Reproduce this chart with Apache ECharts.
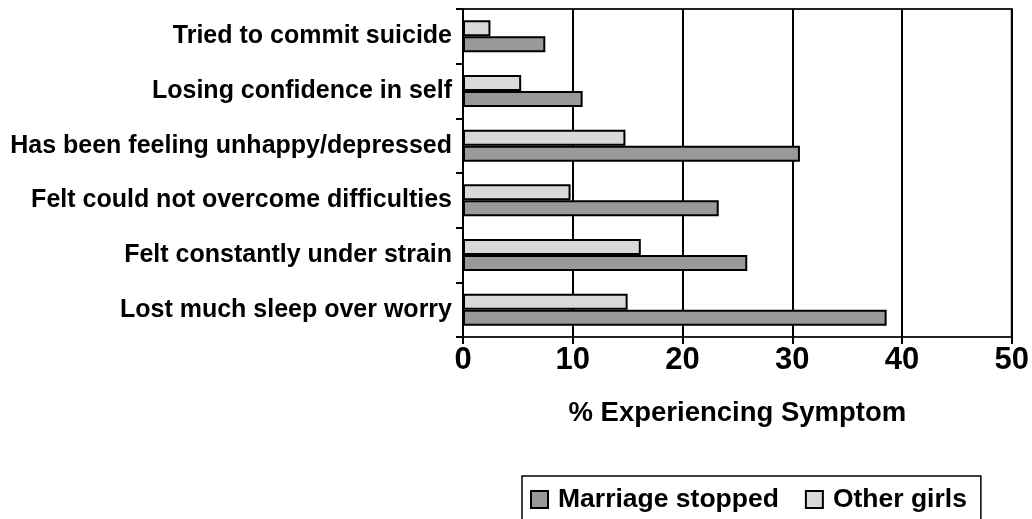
<!DOCTYPE html>
<html>
<head>
<meta charset="utf-8">
<script src="https://cdn.jsdelivr.net/npm/echarts@6/dist/echarts.min.js"></script>
<style>
  html, body { margin: 0; padding: 0; background: #fff; }
  #chart { width: 1032px; height: 519px; }
</style>
</head>
<body>
<div id="chart"></div>
<script>
"use strict";

var categories = [
  "Tried to commit suicide",
  "Losing confidence in self",
  "Has been feeling unhappy/depressed",
  "Felt could not overcome difficulties",
  "Felt constantly under strain",
  "Lost much sleep over worry"
];
var marriageStopped = [7.5, 10.9, 30.7, 23.3, 25.9, 38.6];
var otherGirls = [2.5, 5.3, 14.8, 9.8, 16.2, 15.0];
var xTicks = [0, 10, 20, 30, 40, 50];

var chart = echarts.init(document.getElementById("chart"));

chart.setOption({
  animation: false,
  textStyle: { fontFamily: "Liberation Sans", fontWeight: "bold", color: "#000" },
  grid: {
    left: 463,
    right: 20,
    top: 9,
    bottom: 182,
    show: true,
    borderColor: "#222",
    borderWidth: 2
  },
  legend: {
    data: ["Marriage stopped", "Other girls"],
    left: 522,
    top: 476,
    padding: [10, 14, 30, 8],
    borderColor: "#000",
    borderWidth: 1.5,
    itemWidth: 17,
    itemHeight: 17,
    itemGap: 26,
    icon: "rect",
    textStyle: {
      fontSize: 26.5,
      fontWeight: "bold",
      color: "#000",
      fontFamily: "Liberation Sans",
      padding: [0, 0, 0, 5]
    }
  },
  xAxis: {
    type: "value",
    min: xTicks[0],
    max: xTicks[xTicks.length - 1],
    interval: 10,
    name: "% Experiencing Symptom",
    nameLocation: "middle",
    nameGap: 62,
    nameTextStyle: { fontSize: 27.5, fontWeight: "bold", color: "#000" },
    axisLine: { lineStyle: { color: "#000", width: 2 } },
    axisTick: { show: true, length: 7, lineStyle: { color: "#000", width: 2 } },
    axisLabel: { fontSize: 31, fontWeight: "bold", color: "#000", margin: 8 },
    splitLine: { show: true, lineStyle: { color: "#000", width: 2 } }
  },
  yAxis: {
    type: "category",
    inverse: true,
    data: categories,
    axisLine: { lineStyle: { color: "#000", width: 2 } },
    axisTick: { show: true, length: 7, lineStyle: { color: "#000", width: 2 } },
    axisLabel: { fontSize: 25, fontWeight: "bold", color: "#000", margin: 11 }
  },
  series: [
    {
      name: "Other girls",
      type: "bar",
      data: otherGirls,
      barWidth: 16,
      barGap: "0%",
      itemStyle: { color: "#d9d9d9", borderColor: "#000", borderWidth: 2 }
    },
    {
      name: "Marriage stopped",
      type: "bar",
      data: marriageStopped,
      barWidth: 16,
      barGap: "0%",
      itemStyle: { color: "#999999", borderColor: "#000", borderWidth: 2 }
    }
  ]
});
</script>
</body>
</html>
